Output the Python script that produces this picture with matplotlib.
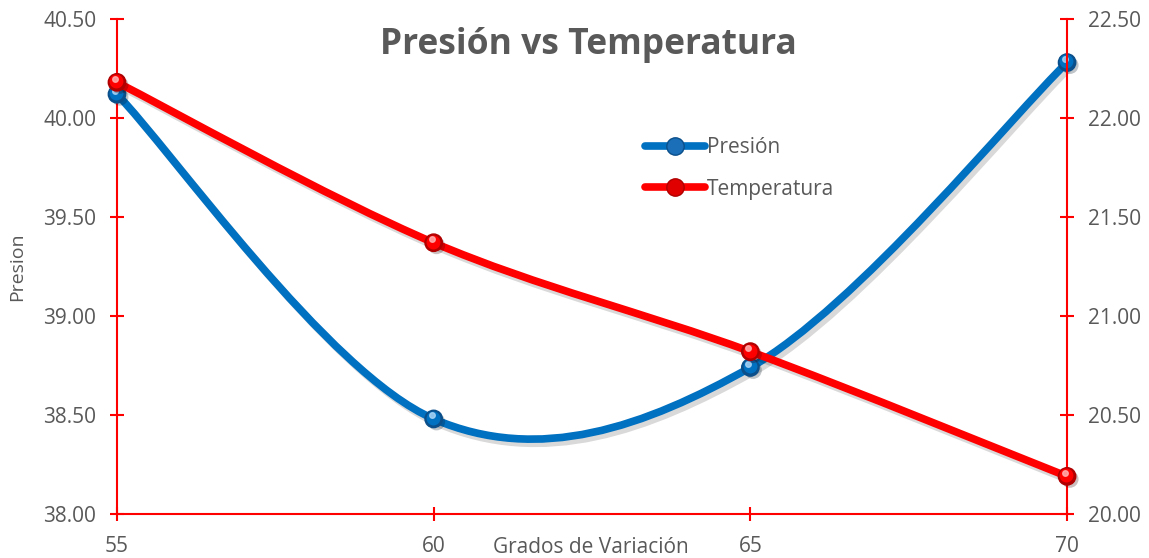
import matplotlib
matplotlib.use("Agg")
import matplotlib.pyplot as plt
import matplotlib.patheffects as pe
from matplotlib.path import Path
from matplotlib.patches import PathPatch
from matplotlib.lines import Line2D
from matplotlib.ticker import FormatStrFormatter
from matplotlib.transforms import offset_copy
import numpy as np

# data
grados = [55, 60, 65, 70]
presion = [40.12, 38.48, 38.74, 40.28]
temperatura = [22.18, 21.37, 20.82, 20.19]

BLUE = "#0070C0"
RED = "#FF0000"
GRAY = "#595959"

plt.rcParams["font.family"] = ["Open Sans", "DejaVu Sans"]


def smooth_path(xs, ys):
    # cardinal spline through the points as cubic beziers (like Excel smoothing)
    pts = np.column_stack([xs, ys]).astype(float)
    n = len(pts)
    verts = [pts[0]]
    codes = [Path.MOVETO]
    for i in range(n - 1):
        p0 = pts[i - 1] if i > 0 else pts[i]
        p1 = pts[i]
        p2 = pts[i + 1]
        p3 = pts[i + 2] if i + 2 < n else pts[i + 1]
        c1 = p1 + (p2 - p0) / 6.0
        c2 = p2 - (p3 - p1) / 6.0
        verts += [c1, c2, p2]
        codes += [Path.CURVE4] * 3
    return Path(verts, codes)


def draw_series(ax, xs, ys, color, dark, light):
    shadow = [pe.SimpleLineShadow(offset=(2.5, -3), shadow_color="k", alpha=0.15),
              pe.Normal()]
    patch = PathPatch(smooth_path(xs, ys), facecolor="none", edgecolor=color,
                      lw=5.5, capstyle="round", joinstyle="round",
                      clip_on=False, zorder=3, path_effects=shadow)
    ax.add_patch(patch)
    # glossy ball markers: dark base, body, highlight
    ax.plot(xs, ys, ls="none", marker="o", ms=12.5, mfc=dark, mec=dark,
            clip_on=False, zorder=4,
            path_effects=[pe.SimplePatchShadow(offset=(2, -2), alpha=0.25), pe.Normal()])
    ax.plot(xs, ys, ls="none", marker="o", ms=9, mfc=color, mec=color,
            clip_on=False, zorder=5,
            transform=offset_copy(ax.transData, fig=ax.figure, x=-0.5, y=0.8, units="points"))
    ax.plot(xs, ys, ls="none", marker="o", ms=4, mfc=light, mec=light, alpha=0.85,
            clip_on=False, zorder=6,
            transform=offset_copy(ax.transData, fig=ax.figure, x=-1.5, y=2.6, units="points"))


fig = plt.figure(figsize=(11.49, 5.58), dpi=100)
ax = fig.add_axes([0.1018, 0.0789, 0.8269, 0.8871])
ax2 = ax.twinx()

ax.set_xlim(55, 70)
ax.set_ylim(38.0, 40.5)
ax2.set_ylim(20.0, 22.5)
ax.set_xticks(grados)
ax.set_yticks(np.arange(38.0, 40.51, 0.5))
ax2.set_yticks(np.arange(20.0, 22.51, 0.5))
ax.yaxis.set_major_formatter(FormatStrFormatter("%.2f"))
ax2.yaxis.set_major_formatter(FormatStrFormatter("%.2f"))

for a in (ax, ax2):
    a.patch.set_visible(False)
    a.spines["top"].set_visible(False)
    for s in ("left", "right", "bottom"):
        a.spines[s].set_color(RED)
        a.spines[s].set_linewidth(1.5)
    a.tick_params(direction="inout", length=10, width=1.5, color=RED,
                  labelcolor=GRAY, labelsize=15, pad=10)
ax2.spines["left"].set_visible(False)
ax2.spines["bottom"].set_visible(False)
ax.spines["right"].set_visible(False)
ax.tick_params(axis="x", pad=11)

draw_series(ax, grados, presion, BLUE, "#0B4F8A", "#A9D3F5")
draw_series(ax2, grados, temperatura, RED, "#B00000", "#FFB0B0")

ax.set_ylabel("Presion", color=GRAY, fontsize=14, labelpad=12)
fig.text(0.5146, 0.018, "Grados de Variación", color=GRAY, fontsize=15,
         ha="center", va="center")
fig.text(0.512, 0.919, "Presión vs Temperatura", color=GRAY, fontsize=25.5,
         fontweight="bold", ha="center", va="center")

handles = [
    Line2D([], [], color=BLUE, lw=5.5, marker="o", ms=12.5, mfc="#1A6FB8", mec="#0B4F8A",
           solid_capstyle="round"),
    Line2D([], [], color=RED, lw=5.5, marker="o", ms=12.5, mfc="#E00000", mec="#B00000",
           solid_capstyle="round"),
]
leg = ax2.legend(handles, ["Presión", "Temperatura"], loc="upper left",
                 bbox_to_anchor=(0.5614, 0.754), bbox_transform=fig.transFigure,
                 frameon=False, fontsize=15, borderpad=0, borderaxespad=0,
                 handlelength=2.9, handletextpad=0.05, labelspacing=0.98)
for t in leg.get_texts():
    t.set_color(GRAY)

fig.savefig("out.png", dpi=100)
